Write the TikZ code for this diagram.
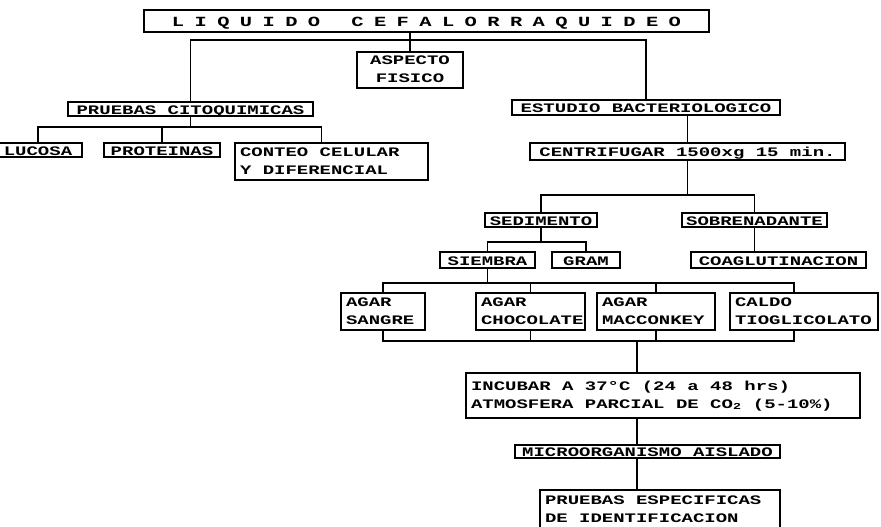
\documentclass[tikz,border=0pt]{standalone}
\usepackage{fontspec}
\newfontfamily\tw[FakeStretch=1.46]{Liberation Mono}
\newcommand\twfont{\tw\bfseries\fontsize{13}{18}\selectfont\spaceskip=11.4pt\relax\xspaceskip=11.4pt\relax}
\newcommand\twtitle{\tw\bfseries\fontsize{14}{16}\selectfont\spaceskip=10.4pt\relax\xspaceskip=10.4pt\relax}
\newcommand\fixsp{\spaceskip=11.4pt\relax\xspaceskip=11.4pt\relax}
\tikzset{
  box/.style={draw, line width=1.4pt, inner sep=0pt, text height=10pt, text depth=0pt,
    font=\twfont},
  two/.style={text height=9pt, text depth=20pt},
  conn/.style={line width=1.4pt}
}
\newcommand\mybox[7][]{\node[box, minimum width={(#5)-(#3)}, minimum height={(#6)-(#4)}, align=center, #1]
  (#2) at ({((#3)+(#5))/2},{((#4)+(#6))/2}) {#7};}
\newcommand\myboxl[7][]{\node[box, minimum width={(#5)-(#3)}, minimum height={(#6)-(#4)},
  text width={(#5)-(#3)-10}, align=left, #1]
  (#2) at ({((#3)+(#5))/2},{((#4)+(#6))/2}) {\fixsp #7};}
\begin{document}
\begin{tikzpicture}[x=1pt,y=-1pt]
\useasboundingbox (0,0) rectangle (881,527);
\clip (0,0) rectangle (881,527);
% nodes
\mybox[font=\twtitle, text height=10.5pt]{title}{144}{10}{709}{32}{L~I~Q~U~I~D~O~~~C~E~F~A~L~O~R~R~A~Q~U~I~D~E~O}
\myboxl[two, align=center]{aspecto}{357}{52}{463}{88}{ASPECTO\\FISICO}
\mybox{pruebas}{68}{102}{313}{116}{PRUEBAS CITOQUIMICAS}
\mybox{lucosa}{-6}{143}{82}{157}{LUCOSA}
\mybox{proteinas}{104}{143}{220}{157}{PROTEINAS}
\myboxl[two]{conteo}{235}{143}{428}{180}{CONTEO CELULAR\\Y DIFERENCIAL}
\mybox{estudio}{512}{100}{780}{115}{ESTUDIO BACTERIOLOGICO}
\mybox{centri}{530}{143}{845}{160}{CENTRIFUGAR 1500xg 15 min.}
\mybox{sedimento}{485}{213}{597}{227}{SEDIMENTO}
\mybox{sobre}{682}{213}{827}{227}{SOBRENADANTE}
\mybox{siembra}{440}{252}{535}{268}{SIEMBRA}
\mybox{gram}{552}{252}{620}{268}{GRAM}
\mybox{coag}{691}{252}{866}{268}{COAGLUTINACION}
\myboxl[two]{sangre}{341}{293}{425}{330}{AGAR\\SANGRE}
\myboxl[two]{chocolate}{476}{293}{585}{330}{AGAR\\CHOCOLATE}
\myboxl[two]{maccon}{597}{293}{715}{330}{AGAR\\MACCONKEY}
\myboxl[two]{caldo}{730}{293}{878}{330}{CALDO\\TIOGLICOLATO}
\myboxl[two]{incubar}{466}{373}{860}{418}{INCUBAR A 37°C (24 a 48 hrs)\\ATMOSFERA PARCIAL DE CO\textsubscript{2} (5-10\%)}
\mybox{micro}{515}{445}{780}{458}{MICROORGANISMO AISLADO}
\myboxl[two]{especif}{540}{490}{780}{529}{PRUEBAS ESPECIFICAS\\DE IDENTIFICACION}
% bus levels
\coordinate (b1) at (0,40);
\coordinate (b2) at (0,127);
\coordinate (b3) at (0,195);
\coordinate (b4) at (0,242);
\coordinate (b5) at (0,283);
\coordinate (b6) at (0,341);
\coordinate (spine) at (637,0);
% connectors
\draw[conn] (aspecto.north) -- (aspecto.north |- title.south);
\draw[conn] (pruebas.north) |- (estudio.north |- b1) -- (estudio.north);
\draw[conn] (pruebas.south) -- (pruebas.south |- b2);
\draw[conn] (lucosa.north) |- ([xshift=-10pt]conteo.north |- b2) -- ([xshift=-10pt]conteo.north);
\draw[conn] (proteinas.north) -- (proteinas.north |- b2);
\draw[conn] (centri.north) -- (centri.north |- estudio.south);
\draw[conn] (centri.south) -- (centri.south |- b3);
\draw[conn] (sedimento.north) |- (sobre.north |- b3) -- (sobre.north);
\draw[conn] (sedimento.south) -- (sedimento.south |- b4);
\draw[conn] (siembra.north) |- (gram.north |- b4) -- (gram.north);
\draw[conn] (sobre.south) -- (sobre.south |- coag.north);
\draw[conn] (siembra.south) -- (siembra.south |- b5);
\draw[conn] (sangre.north) |- ([xshift=-10pt]caldo.north |- b5) -- ([xshift=-10pt]caldo.north);
\draw[conn] (chocolate.north) -- (chocolate.north |- b5);
\draw[conn] (maccon.north) -- (maccon.north |- b5);
\draw[conn] (sangre.south) |- ([xshift=-10pt]caldo.south |- b6) -- ([xshift=-10pt]caldo.south);
\draw[conn] (chocolate.south) -- (chocolate.south |- b6);
\draw[conn] (maccon.south) -- (maccon.south |- b6);
\draw[conn] (spine |- b6) -- (spine |- incubar.north);
\draw[conn] (incubar.south -| spine) -- (micro.north -| spine);
\draw[conn] (micro.south -| spine) -- (especif.north -| spine);
\end{tikzpicture}
\end{document}
